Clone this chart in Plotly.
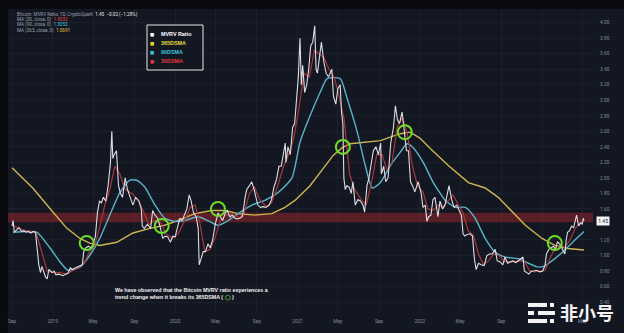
import plotly.graph_objects as go

# ---------------- data ----------------
mvrv_dates = [
    "2018-09-01","2018-09-04","2018-09-08","2018-09-15","2018-09-22","2018-09-29","2018-10-06","2018-10-13",
    "2018-10-20","2018-10-27","2018-11-03","2018-11-10","2018-11-15","2018-11-20","2018-11-25","2018-11-29",
    "2018-12-04","2018-12-10","2018-12-15","2018-12-20","2018-12-25","2018-12-30","2019-01-05","2019-01-10",
    "2019-01-18","2019-01-25","2019-02-01","2019-02-08","2019-02-15","2019-02-22","2019-03-01","2019-03-08",
    "2019-03-15","2019-03-22","2019-03-30","2019-04-03","2019-04-10","2019-04-17","2019-04-24","2019-05-01",
    "2019-05-08","2019-05-14","2019-05-20","2019-05-26","2019-06-01","2019-06-08","2019-06-15","2019-06-22",
    "2019-06-26","2019-06-29","2019-07-03","2019-07-10","2019-07-16","2019-07-22","2019-07-28","2019-08-05",
    "2019-08-12","2019-08-20","2019-08-28","2019-09-05","2019-09-15","2019-09-22","2019-09-25","2019-10-01",
    "2019-10-10","2019-10-20","2019-10-26","2019-11-02","2019-11-10","2019-11-18","2019-11-25","2019-12-02",
    "2019-12-10","2019-12-18","2019-12-25","2020-01-01","2020-01-08","2020-01-15","2020-01-22","2020-01-29",
    "2020-02-05","2020-02-12","2020-02-18","2020-02-25","2020-03-04","2020-03-10","2020-03-13","2020-03-18",
    "2020-03-25","2020-04-01","2020-04-08","2020-04-15","2020-04-22","2020-04-30","2020-05-08","2020-05-15",
    "2020-05-22","2020-05-30","2020-06-05","2020-06-12","2020-06-20","2020-06-28","2020-07-05","2020-07-12",
    "2020-07-20","2020-07-28","2020-08-02","2020-08-10","2020-08-17","2020-08-24","2020-09-04","2020-09-12",
    "2020-09-20","2020-09-28","2020-10-08","2020-10-15","2020-10-22","2020-10-30","2020-11-06","2020-11-13",
    "2020-11-20","2020-11-25","2020-11-27","2020-12-03","2020-12-10","2020-12-17","2020-12-23","2020-12-28",
    "2021-01-03","2021-01-08","2021-01-12","2021-01-16","2021-01-22","2021-01-28","2021-02-03","2021-02-09",
    "2021-02-15","2021-02-21","2021-02-25","2021-03-01","2021-03-08","2021-03-13","2021-03-20","2021-03-27",
    "2021-04-03","2021-04-13","2021-04-18","2021-04-25","2021-05-01","2021-05-08","2021-05-12","2021-05-16",
    "2021-05-19","2021-05-23","2021-05-28","2021-06-04","2021-06-10","2021-06-15","2021-06-22","2021-06-30",
    "2021-07-08","2021-07-15","2021-07-20","2021-07-27","2021-08-02","2021-08-09","2021-08-15","2021-08-23",
    "2021-08-30","2021-09-06","2021-09-08","2021-09-15","2021-09-21","2021-09-28","2021-10-06","2021-10-14",
    "2021-10-20","2021-10-26","2021-11-01","2021-11-09","2021-11-16","2021-11-22","2021-11-28","2021-12-04",
    "2021-12-10","2021-12-17","2021-12-27","2022-01-05","2022-01-10","2022-01-17","2022-01-22","2022-01-27",
    "2022-02-03","2022-02-09","2022-02-15","2022-02-24","2022-03-02","2022-03-10","2022-03-17","2022-03-25",
    "2022-03-29","2022-04-06","2022-04-13","2022-04-21","2022-04-28","2022-05-05","2022-05-10","2022-05-15",
    "2022-05-22","2022-05-31","2022-06-07","2022-06-13","2022-06-18","2022-06-25","2022-07-03","2022-07-12",
    "2022-07-20","2022-07-28","2022-08-05","2022-08-14","2022-08-20","2022-08-28","2022-09-06","2022-09-12",
    "2022-09-20","2022-09-28","2022-10-05","2022-10-15","2022-10-25","2022-11-05","2022-11-09","2022-11-15",
    "2022-11-22","2022-11-30","2022-12-08","2022-12-15","2022-12-25","2023-01-03","2023-01-10","2023-01-14",
    "2023-01-21","2023-01-28","2023-02-04","2023-02-10","2023-02-16","2023-02-24","2023-03-03","2023-03-10",
    "2023-03-14","2023-03-18","2023-03-24","2023-03-30","2023-04-05","2023-04-11","2023-04-14","2023-04-20",
    "2023-04-26","2023-05-01","2023-05-04","2023-05-06",
]
mvrv_values = [
    1.38,1.45,1.30,1.33,1.36,1.31,1.32,1.30,
    1.31,1.29,1.31,1.30,1.05,0.88,0.78,0.86,
    0.80,0.72,0.70,0.82,0.80,0.78,0.80,0.75,
    0.76,0.75,0.74,0.76,0.77,0.84,0.82,0.84,
    0.85,0.86,0.88,1.05,1.10,1.12,1.10,1.14,
    1.25,1.55,1.70,1.68,1.75,1.70,1.90,2.20,
    2.60,2.25,2.30,2.35,1.90,1.80,1.75,2.00,
    1.85,1.75,1.65,1.75,1.70,1.60,1.38,1.35,
    1.40,1.35,1.58,1.52,1.48,1.36,1.22,1.25,
    1.24,1.17,1.25,1.24,1.35,1.48,1.45,1.52,
    1.60,1.78,1.70,1.55,1.50,1.35,0.88,0.95,
    1.05,1.05,1.15,1.10,1.20,1.40,1.55,1.50,
    1.45,1.55,1.58,1.50,1.52,1.48,1.47,1.48,
    1.50,1.75,1.85,1.90,1.95,1.85,1.65,1.62,
    1.63,1.62,1.65,1.72,1.88,1.98,2.15,2.15,
    2.35,2.45,2.20,2.40,2.30,2.65,2.70,3.00,
    3.30,3.80,3.20,3.45,3.10,3.20,3.40,3.70,
    3.75,3.96,3.40,3.35,3.55,3.75,3.50,3.35,
    3.30,3.40,3.05,2.95,3.15,3.20,2.85,2.70,
    2.00,1.85,1.90,1.88,1.80,1.95,1.65,1.72,
    1.70,1.65,1.56,1.90,2.00,2.20,2.35,2.40,
    2.30,2.45,2.05,2.15,1.95,2.00,2.45,2.65,
    2.93,2.75,2.70,2.85,2.55,2.35,2.35,1.95,
    1.90,1.82,1.95,1.80,1.62,1.65,1.44,1.50,
    1.52,1.72,1.75,1.50,1.70,1.60,1.65,1.80,
    1.90,1.72,1.62,1.65,1.58,1.52,1.28,1.25,
    1.27,1.28,1.25,0.95,0.82,0.90,0.88,0.87,
    1.00,1.02,1.02,1.08,0.93,0.92,0.88,0.98,
    0.90,0.92,0.93,0.91,0.94,0.98,0.80,0.78,
    0.76,0.80,0.80,0.81,0.79,0.80,0.88,1.02,
    1.08,1.10,1.12,1.08,1.18,1.14,1.08,1.02,
    1.20,1.30,1.32,1.38,1.36,1.45,1.52,1.38,
    1.42,1.40,1.48,1.45,
]

sma30_dates = [
    "2018-09-01","2018-09-20","2018-10-10","2018-11-01","2018-11-12","2018-11-25","2018-12-05","2018-12-15",
    "2019-01-01","2019-01-20","2019-02-10","2019-03-01","2019-03-20","2019-04-05","2019-04-20","2019-05-05",
    "2019-05-20","2019-06-05","2019-06-20","2019-07-05","2019-07-20","2019-08-05","2019-08-25","2019-09-15",
    "2019-10-01","2019-10-15","2019-11-01","2019-11-20","2019-12-05","2019-12-25","2020-01-10","2020-01-30",
    "2020-02-15","2020-03-01","2020-03-15","2020-03-30","2020-04-15","2020-05-01","2020-05-15","2020-06-01",
    "2020-06-20","2020-07-10","2020-07-25","2020-08-10","2020-08-25","2020-09-10","2020-09-30","2020-10-15",
    "2020-11-01","2020-11-20","2020-12-05","2020-12-20","2021-01-05","2021-01-20","2021-02-05","2021-02-20",
    "2021-03-05","2021-03-20","2021-04-05","2021-04-20","2021-05-05","2021-05-20","2021-06-05","2021-06-20",
    "2021-07-10","2021-07-25","2021-08-10","2021-08-25","2021-09-10","2021-09-25","2021-10-10","2021-10-25",
    "2021-11-10","2021-11-25","2021-12-10","2021-12-25","2022-01-10","2022-01-25","2022-02-10","2022-02-25",
    "2022-03-10","2022-03-25","2022-04-10","2022-04-25","2022-05-10","2022-05-25","2022-06-10","2022-06-25",
    "2022-07-10","2022-07-25","2022-08-10","2022-08-25","2022-09-10","2022-09-25","2022-10-10","2022-10-25",
    "2022-11-10","2022-11-25","2022-12-10","2022-12-25","2023-01-10","2023-01-25","2023-02-10","2023-02-25",
    "2023-03-10","2023-03-25","2023-04-10","2023-04-25","2023-05-06",
]
sma30_values = [
    1.40,1.35,1.32,1.31,1.30,1.10,0.95,0.80,
    0.78,0.78,0.76,0.80,0.85,0.90,1.05,1.12,
    1.35,1.65,1.85,2.15,2.05,1.85,1.80,1.70,
    1.55,1.40,1.45,1.42,1.28,1.22,1.28,1.45,
    1.62,1.65,1.42,1.05,1.08,1.25,1.45,1.52,
    1.53,1.48,1.55,1.80,1.88,1.72,1.63,1.68,
    1.88,2.15,2.30,2.50,2.90,3.35,3.30,3.65,
    3.60,3.55,3.40,3.30,3.05,2.75,2.05,1.85,
    1.72,1.65,1.95,2.30,2.30,2.10,2.20,2.65,
    2.78,2.55,2.15,1.90,1.82,1.60,1.58,1.65,
    1.62,1.70,1.78,1.66,1.55,1.32,1.26,1.02,
    0.88,0.93,1.02,1.00,0.92,0.92,0.92,0.93,
    0.92,0.80,0.79,0.80,0.81,0.97,1.10,1.14,
    1.10,1.20,1.35,1.43,1.45,
]

sma90_dates = [
    "2018-09-04","2018-10-15","2018-11-14","2018-12-23","2019-01-22","2019-02-15","2019-03-23","2019-04-21",
    "2019-05-21","2019-06-20","2019-07-20","2019-08-19","2019-09-09","2019-10-03","2019-11-02","2019-12-01",
    "2019-12-31","2020-01-30","2020-03-09","2020-04-08","2020-05-08","2020-06-07","2020-07-07","2020-08-17",
    "2020-09-25","2020-11-03","2020-12-15","2021-01-08","2021-02-07","2021-03-09","2021-03-30","2021-05-08",
    "2021-05-29","2021-06-28","2021-07-22","2021-08-12","2021-09-05","2021-10-05","2021-11-03","2021-11-24",
    "2021-12-12","2022-01-11","2022-02-10","2022-03-03","2022-03-18","2022-04-17","2022-05-17","2022-06-15",
    "2022-07-15","2022-08-14","2022-09-13","2022-10-22","2022-11-21","2022-12-21","2023-01-10","2023-02-08",
    "2023-03-10","2023-04-09","2023-05-06",
]
sma90_values = [
    1.30,1.31,1.30,1.10,0.92,0.81,0.85,1.00,
    1.22,1.52,1.81,1.97,1.97,1.88,1.65,1.48,
    1.44,1.45,1.50,1.45,1.39,1.45,1.54,1.65,
    1.71,1.81,2.00,2.46,2.80,3.10,3.28,3.28,
    3.02,2.59,2.16,1.87,1.94,2.16,2.33,2.44,
    2.39,2.20,1.94,1.80,1.71,1.62,1.62,1.48,
    1.22,1.04,0.98,0.96,0.90,0.85,0.87,0.96,
    1.07,1.20,1.31,
]

sma365_dates = [
    "2018-09-01","2018-11-02","2019-01-01","2019-02-12","2019-03-23","2019-04-21","2019-05-21","2019-07-11",
    "2019-08-28","2019-10-18","2019-12-01","2020-01-09","2020-02-29","2020-04-20","2020-05-29","2020-07-07",
    "2020-08-26","2020-10-16","2020-11-24","2020-12-24","2021-02-07","2021-03-18","2021-04-17","2021-05-14",
    "2021-06-07","2021-09-05","2021-11-03","2021-12-03","2022-01-02","2022-02-01","2022-03-03","2022-03-27",
    "2022-05-26","2022-07-15","2022-08-23","2022-10-04","2022-11-12","2023-01-01","2023-02-08","2023-03-19",
    "2023-04-30","2023-05-06",
]
sma365_values = [
    2.13,1.87,1.56,1.35,1.22,1.16,1.13,1.17,
    1.29,1.35,1.39,1.45,1.54,1.58,1.58,1.54,
    1.52,1.54,1.62,1.71,1.90,2.12,2.29,2.39,
    2.44,2.48,2.57,2.59,2.51,2.38,2.26,2.16,
    1.94,1.87,1.75,1.56,1.39,1.22,1.13,1.09,
    1.07,1.07,
]

cross_dates = ["2019-04-12", "2019-11-22", "2020-05-08", "2021-05-16", "2021-11-17", "2023-02-08"]
cross_values = [1.16, 1.38, 1.60, 2.40, 2.59, 1.16]

band_low, band_high = 1.43, 1.55
last_value = 1.45

x_tick_vals = ["2018-09-01","2019-01-01","2019-05-01","2019-09-01","2020-01-01","2020-05-01","2020-09-01",
               "2021-01-01","2021-05-01","2021-09-01","2022-01-01","2022-05-01","2022-09-01","2023-01-01","2023-05-01"]
x_tick_text = ["Sep","2019","May","Sep","2020","May","Sep","2021","May","Sep","2022","May","Sep","2023","May"]
# 1.40 is hidden behind the last-value tag in the reference
y_tick_vals = [0.4,0.6,0.8,1.0,1.2,1.6,1.8,2.0,2.2,2.4,2.6,2.8,3.0,3.2,3.4,3.6,3.8,4.0]
y_tick_text = ["%.2f" % v for v in y_tick_vals]

# ---------------- styling ----------------
W, H = 624, 333
ML, MR, MT, MB = 8, 31, 9, 20
PW, PH = W - ML - MR, H - MT - MB
BG = "#131722"
C_WHITE = "#dcdde3"
C_RED = "#a8373a"
C_CYAN = "#58b3c8"
C_YEL = "#cdb64e"
C_GREEN = "#6fdc2a"


def px(x):
    return (x - ML) / PW


def py(y):
    return (H - MB - y) / PH


fig = go.Figure()
fig.add_trace(go.Scatter(x=sma365_dates, y=sma365_values, mode="lines", line=dict(color=C_YEL, width=1.4), name="365DSMA"))
fig.add_trace(go.Scatter(x=sma90_dates, y=sma90_values, mode="lines", line=dict(color=C_CYAN, width=1.4, shape="spline", smoothing=0.6), name="90DSMA"))
fig.add_trace(go.Scatter(x=sma30_dates, y=sma30_values, mode="lines", line=dict(color=C_RED, width=1.2), name="30DSMA"))
fig.add_trace(go.Scatter(x=mvrv_dates, y=mvrv_values, mode="lines", line=dict(color=C_WHITE, width=1.1), name="MVRV Ratio"))
fig.add_trace(go.Scatter(x=cross_dates, y=cross_values, mode="markers",
                         marker=dict(symbol="circle-open", size=14, color=C_GREEN, line=dict(width=2, color=C_GREEN)),
                         name="cross"))

shapes = [
    # dark frame strips
    dict(type="rect", xref="paper", yref="paper", x0=px(0), x1=px(W), y0=py(0), y1=py(MT), fillcolor="#0a0b0f", line=dict(width=0), layer="below"),
    dict(type="rect", xref="paper", yref="paper", x0=px(0), x1=px(ML), y0=py(0), y1=py(H), fillcolor="#0a0b0f", line=dict(width=0), layer="below"),
    # red band
    dict(type="rect", xref="paper", yref="y", x0=0, x1=1, y0=band_low, y1=band_high, fillcolor="#5e1f27", opacity=0.95, line=dict(width=0), layer="below"),
    # legend box
    dict(type="rect", xref="paper", yref="paper", x0=px(147), x1=px(203), y0=py(25), y1=py(70), fillcolor=BG, line=dict(color="#e8e8e8", width=1)),
]
# watermark logo bars
def pill(x0, x1, yc, h=4):
    return dict(type="rect", xref="paper", yref="paper", x0=px(x0), x1=px(x1), y0=py(yc + h / 2), y1=py(yc - h / 2),
                fillcolor="#f2f2f2", line=dict(width=0))
shapes += [pill(528, 547, 305), pill(550, 554, 305), pill(528, 534, 313), pill(538, 555, 313), pill(528, 547, 321), pill(550, 554, 321)]

ann = []
gray = "#9aa0ad"
hdr_font = dict(family="Roboto, Liberation Sans, sans-serif", size=4.6, color=gray)
ann.append(dict(x=px(15), y=py(14.3), xref="paper", yref="paper", xanchor="left", yanchor="middle", showarrow=False,
                text="Bitcoin: MVRV Ratio, 1D, CryptoQuant  <span style='color:#e8e8e8'>1.45  −0.02 (−1.28%)</span>", font=hdr_font))
for i, (lab, val, col) in enumerate([("MA (30, close, 0)", "1.4532", "#e0474b"),
                                      ("MA (90, close, 0)", "1.3053", "#45c2dc"),
                                      ("MA (365, close, 0)", "1.0691", "#e7c13a")]):
    ann.append(dict(x=px(15), y=py(19.6 + 5.3 * i), xref="paper", yref="paper", xanchor="left", yanchor="middle", showarrow=False,
                    text=f"{lab}  <span style='color:{col}'>{val}</span>", font=hdr_font))

for i, (lab, col) in enumerate([("MVRV Ratio", "#ffffff"), ("365DSMA", "#e8dc3c"), ("90DSMA", "#3fc3db"), ("30DSMA", "#e03a3a")]):
    yy = 34.3 + 9 * i
    ann.append(dict(x=px(152), y=py(yy), xref="paper", yref="paper", xanchor="center", yanchor="middle", showarrow=False,
                    text="■", font=dict(family="DejaVu Sans", size=4.5, color=col)))
    ann.append(dict(x=px(159), y=py(yy), xref="paper", yref="paper", xanchor="left", yanchor="middle", showarrow=False,
                    text=f"<b>{lab}</b>", font=dict(family="Liberation Sans, Arial, sans-serif", size=5.4, color=col)))

ann.append(dict(x=px(113), y=py(293.5), xref="paper", yref="paper", xanchor="left", yanchor="middle", showarrow=False, align="left",
                text="<b>We have observed that the Bitcoin MVRV ratio experiences a<br>trend change when it breaks its 365DSMA ( <span style='color:#6fdc2a'>◯</span> )</b>",
                font=dict(family="Liberation Sans, Arial, sans-serif", size=5.3, color="#f4f4f4")))

# last value tag
ann.append(dict(x=1, y=last_value, xref="paper", yref="y", xanchor="left", yanchor="middle", showarrow=False,
                text="1.45", bgcolor="#f2f2f2", borderpad=1.2, xshift=3,
                font=dict(family="Roboto, sans-serif", size=5, color="#131722")))

# watermark text
ann.append(dict(x=px(587), y=py(312), xref="paper", yref="paper", xanchor="center", yanchor="middle", showarrow=False,
                text="<b>非小号</b>", font=dict(family="Noto Sans CJK SC", size=18, color="#f2f2f2")))

fig.update_layout(
    width=W, height=H,
    margin=dict(l=ML, r=MR, t=MT, b=MB),
    paper_bgcolor=BG, plot_bgcolor=BG,
    showlegend=False,
    shapes=shapes,
    annotations=ann,
    xaxis=dict(type="date", range=["2018-08-20", "2023-06-02"], tickvals=x_tick_vals, ticktext=x_tick_text,
               showgrid=True, gridcolor="rgba(255,255,255,0.035)", zeroline=False, showline=False, ticks="",
               tickfont=dict(family="Roboto, sans-serif", size=4.8, color="#868b98"), ticklabelstandoff=4),
    yaxis=dict(range=[0.259, 4.177], side="right", tickvals=y_tick_vals, ticktext=y_tick_text,
               showgrid=True, gridcolor="rgba(255,255,255,0.035)", zeroline=False, showline=False, ticks="",
               tickfont=dict(family="Roboto, sans-serif", size=4.8, color="#868b98"), ticklabelstandoff=6),
)

fig.write_html("out.html")
